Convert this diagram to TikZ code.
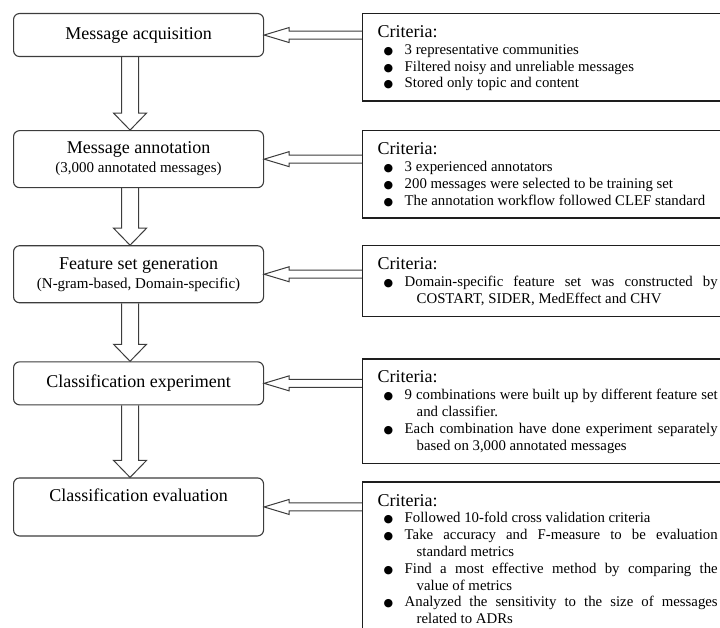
\documentclass[tikz,border=0pt]{standalone}
\usepackage{fontspec}
\setmainfont{Liberation Serif}
\newfontfamily\dotfont{DejaVu Sans}
\usetikzlibrary{positioning,calc}
\definecolor{fcline}{HTML}{3C3C3C}
\definecolor{fcink}{HTML}{1E1E1E}
\newcommand{\critfont}{\fontsize{14.8}{16.8}\selectfont}
\newcommand{\critsetup}{\hyphenpenalty=10000 \exhyphenpenalty=10000 \tolerance=9999
  \spaceskip=0.25em plus 0.6em minus 0pt\relax}
\newcommand{\critdot}{\makebox[21pt][l]{{\dotfont\fontsize{11}{11}\selectfont ●}}}
\newcommand{\critem}[1]{\par\noindent\hangindent=39pt\hangafter=1\hspace*{6pt}\critdot#1\par}
\newcommand{\crithead}{\critsetup\noindent\vrule width 0pt height 15pt depth 0pt{\fontsize{18}{18}\selectfont Criteria:}}
\newcommand{\critend}{\vrule width 0pt height 0pt depth 4pt}
\newcommand{\stagesub}[1]{{\fontsize{15}{16}\selectfont #1}}
% hollow block arrows between the boxes
\newcommand{\flowdown}[2]{%
  \draw[blockarr] let \p1=($(#1.south)+(-8.5pt,0)$), \p2=($(#2.north)+(-8.5pt,0)$) in
    (\x1-8.5pt,\y1) -- (\x1-8.5pt,\y2+17pt) -- (\x1-16.5pt,\y2+17pt) -- (\x1,\y2)
    -- (\x1+16.5pt,\y2+17pt) -- (\x1+8.5pt,\y2+17pt) -- (\x1+8.5pt,\y1);}
\newcommand{\flowleft}[2]{%
  \draw[blockarr] let \p1=(#1.east), \p2=(#2.west) in
    (\x2,\y1+4pt) -- (\x1+25pt,\y1+4pt) -- (\x1+25pt,\y1+7.5pt) -- (\x1,\y1)
    -- (\x1+25pt,\y1-7.5pt) -- (\x1+25pt,\y1-4pt) -- (\x2,\y1-4pt);}
\tikzset{
  stage/.style={draw=fcline,line width=1.1pt,rounded corners=6pt,minimum width=250pt,
    minimum height=43pt,align=center,inner sep=2pt,font=\fontsize{18}{19}\selectfont},
  stagetwo/.style={stage,minimum height=57pt},
  crit/.style={draw=fcink,line width=1.2pt,text width=340pt,inner xsep=15pt,inner ysep=9pt,
    align=justify,font=\critfont},
  blockarr/.style={draw=fcline,line width=1pt,line join=miter},
}
\begin{document}
\begin{tikzpicture}
\useasboundingbox (0,0) rectangle (720pt,-628pt);
\clip (0,0) rectangle (720pt,-628pt);
\node[stage,anchor=north west] (acq) at (13pt,-13pt) {Message acquisition};
\node[stagetwo,below=73pt of acq] (ann) {Message annotation\\\stagesub{(3,000 annotated messages)}};
\node[stagetwo,below=57pt of ann] (fea) {Feature set generation\\\stagesub{(N-gram-based, Domain-specific)}};
\node[stage,below=58pt of fea] (exp) {Classification experiment};
\node[stagetwo,minimum height=58pt,below=72pt of exp] (eva) {Classification evaluation\\\stagesub{\strut}};

\node[crit,right=98pt of acq.north east,anchor=north west] (acqcrit) {\crithead
  \critem{3 representative communities}
  \critem{Filtered noisy and unreliable messages}
  \critem{Stored only topic and content\critend}};
\node[crit,right=98pt of ann.north east,anchor=north west] (anncrit) {\crithead
  \critem{3 experienced annotators}
  \critem{200 messages were selected to be training set}
  \critem{The annotation workflow followed CLEF standard\critend}};
\node[crit,right=98pt of fea.north east,anchor=north west] (feacrit) {\crithead
  \critem{Domain-specific feature set was constructed by COSTART, SIDER, MedEffect and CHV\critend}};
\node[crit,right=98pt of exp.north east,anchor=north west,yshift=3pt] (expcrit) {\crithead
  \critem{9 combinations were built up by different feature set and classifier.}
  \critem{Each combination have done experiment separately based on 3,000 annotated messages\critend}};
\node[crit,right=98pt of eva.north east,anchor=north west,yshift=-4pt] (evacrit) {\crithead
  \critem{Followed 10-fold cross validation criteria}
  \critem{Take accuracy and F-measure to be evaluation standard metrics}
  \critem{Find a most effective method by comparing the value of metrics}
  \critem{Analyzed the sensitivity to the size of messages related to ADRs\critend}};

\flowdown{acq}{ann}
\flowdown{ann}{fea}
\flowdown{fea}{exp}
\flowdown{exp}{eva}
\flowleft{acq}{acqcrit}
\flowleft{ann}{anncrit}
\flowleft{fea}{feacrit}
\flowleft{exp}{expcrit}
\flowleft{eva}{evacrit}
\end{tikzpicture}
\end{document}
